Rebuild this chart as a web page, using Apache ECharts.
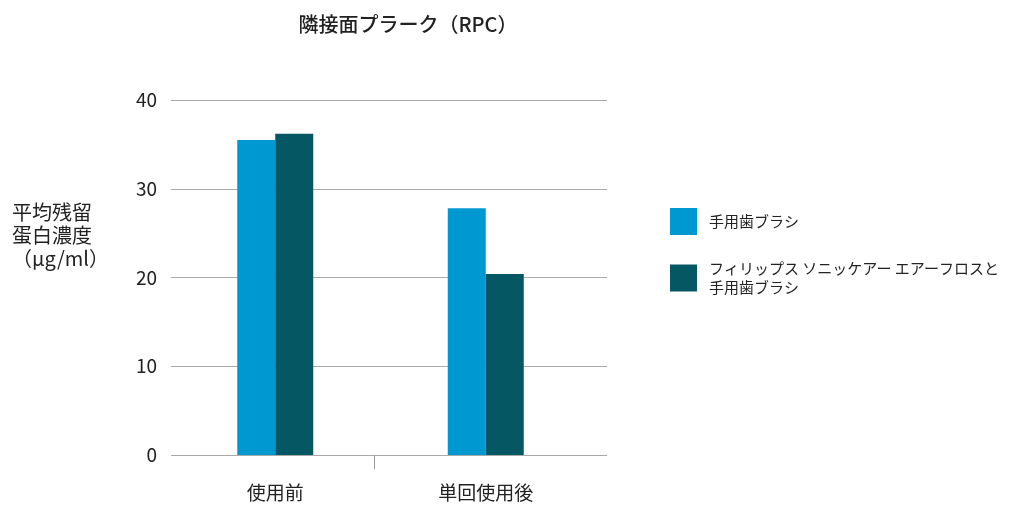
<!DOCTYPE html>
<html><head><meta charset="utf-8">
<script src="https://cdn.jsdelivr.net/npm/echarts@6/dist/echarts.min.js"></script>
<style>html,body{margin:0;padding:0;background:#fff}#c{width:1013px;height:506px}</style>
</head><body><div id="c"></div>
<script>
const categories = ['使用前', '単回使用後'];
const seriesNames = ['手用歯ブラシ', 'フィリップス ソニッケアー エアーフロスと\n手用歯ブラシ'];
const manualBrush = [35.5, 27.8];
const airflossBrush = [36.2, 20.4];
const yTicks = [0, 10, 20, 30, 40];
const titleText = '隣接面プラーク（RPC）';
const yAxisTitle = '平均残留\n蛋白濃度\n（μg/ml）';
const tickSlots = ['l', 'mid', 'r'];

const FONT = '"Noto Sans CJK JP", "Noto Sans", sans-serif';
const chart = echarts.init(document.getElementById('c'));
chart.setOption({
  animation: false,
  textStyle: { fontFamily: FONT },
  title: { text: titleText, left: 403, top: 9, textAlign: 'center',
    textStyle: { fontSize: 20, fontWeight: 500, color: '#222', fontFamily: FONT } },
  graphic: [{ type: 'text', left: 12, top: 201,
    style: { text: yAxisTitle, font: '20px ' + FONT, fill: '#222', lineHeight: 23 } }],
  legend: {
    orient: 'vertical', left: 670, top: 208, padding: 0, itemWidth: 27, itemHeight: 27, itemGap: 24,
    icon: 'rect', selectedMode: false,
    textStyle: { fontSize: 15, color: '#222', fontFamily: FONT, lineHeight: 19, padding: [0, 0, 0, 7] },
    data: seriesNames
  },
  grid: [
    { left: 171, right: 406, top: 100, bottom: 51 },
    { left: 170, right: 422, top: 100, bottom: 51 },
    { left: 171, right: 436, top: 100, bottom: 51 }
  ],
  xAxis: [
    { type: 'category', gridIndex: 0, data: categories, show: false },
    { type: 'category', gridIndex: 1, data: categories,
      axisLine: { show: false }, axisTick: { show: false },
      axisLabel: { fontSize: 19, color: '#222', margin: 28, fontFamily: FONT } },
    { type: 'category', gridIndex: 2, data: tickSlots, boundaryGap: false,
      axisLine: { show: false }, axisLabel: { show: false },
      axisTick: { show: true, length: 14, lineStyle: { color: '#999' },
        interval: (i, v) => v === 'mid' } }
  ],
  yAxis: [
    { type: 'value', gridIndex: 0, min: yTicks[0], max: yTicks[yTicks.length - 1], interval: 10,
      axisLine: { show: false }, axisTick: { show: false },
      axisLabel: { fontSize: 19, color: '#222', margin: 14, fontFamily: FONT },
      splitLine: { lineStyle: { color: '#aaa', width: 1 } } },
    { type: 'value', gridIndex: 1, min: yTicks[0], max: yTicks[yTicks.length - 1], interval: 10, show: false },
    { type: 'value', gridIndex: 2, min: yTicks[0], max: yTicks[yTicks.length - 1], interval: 10, show: false }
  ],
  series: [
    { name: seriesNames[0], type: 'bar', xAxisIndex: 1, yAxisIndex: 1, data: manualBrush,
      barWidth: 38, barGap: '0%', itemStyle: { color: '#0098d1' } },
    { name: seriesNames[1], type: 'bar', xAxisIndex: 1, yAxisIndex: 1, data: airflossBrush,
      barWidth: 38, barGap: '0%', itemStyle: { color: '#055863' } }
  ]
});
</script></body></html>
